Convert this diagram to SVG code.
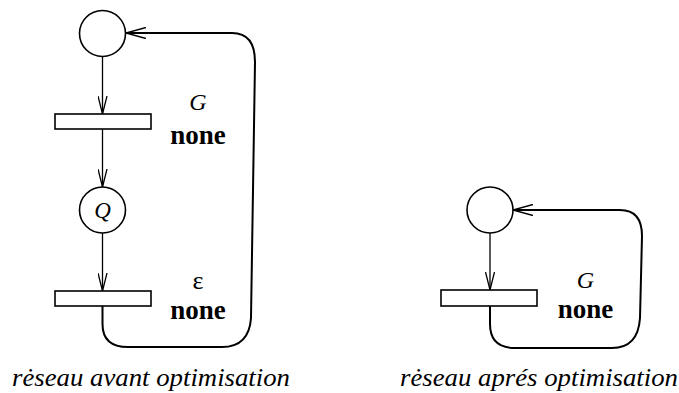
<svg xmlns="http://www.w3.org/2000/svg" width="679" height="393" viewBox="0 0 679 393">
<defs>
<style>
.place{fill:#fff;stroke:#000;stroke-width:1.6}
.trans{fill:#fff;stroke:#000;stroke-width:1.6}
.arc{fill:none;stroke:#000;stroke-width:1.3}
.loop{fill:none;stroke:#000;stroke-width:2}
.lab{fill:#000;text-anchor:middle}
.it{font-style:italic}
.bold{font-weight:bold}
</style>
<marker id="ah" viewBox="0 0 20 12" refX="20" refY="6" markerWidth="20" markerHeight="12" markerUnits="userSpaceOnUse" orient="auto">
<path d="M0,0.5 L20,6 L0,11.5" fill="none" stroke="#000" stroke-width="1.5"/>
</marker>
<marker id="ah2" viewBox="0 0 18 10" refX="18" refY="5" markerWidth="18" markerHeight="10" markerUnits="userSpaceOnUse" orient="auto">
<path d="M0,0.5 L18,5 L0,9.5" fill="none" stroke="#000" stroke-width="1.3"/>
</marker>
</defs>
<rect width="679" height="393" fill="#fff"/>
<g id="connectors">
<line class="arc" x1="102.5" y1="57" x2="102.5" y2="114" marker-end="url(#ah2)"/>
<line class="arc" x1="102.5" y1="129" x2="102.5" y2="187" marker-end="url(#ah2)"/>
<line class="arc" x1="102.5" y1="233" x2="102.5" y2="291" marker-end="url(#ah2)"/>
<path class="loop" d="M102.5,306 L102.5,324 Q102.5,347 128,347 L222,347 Q249,347 251,318 L255,62 Q255,33 232,33 L126,33" marker-end="url(#ah)"/>
<line class="arc" x1="490" y1="233" x2="490" y2="290" marker-end="url(#ah2)"/>
<path class="loop" d="M490,306 L490,324 Q490,348 515,348 L612,348 Q638,348 640,318 L642,236 Q642,210 620,210 L513,210" marker-end="url(#ah)"/>
</g>
<g id="p1"><circle class="place" cx="102.5" cy="33.5" r="23"/></g>
<g id="t1"><rect class="trans" x="55" y="114" width="96" height="15"/></g>
<g id="p2"><circle class="place" cx="102.5" cy="210" r="23"/><text class="lab it" x="102.5" y="218" font-size="23" font-family="Times New Roman, Liberation Serif, DejaVu Serif, serif">Q</text></g>
<g id="t2"><rect class="trans" x="55" y="291" width="96" height="15"/></g>
<g id="lab1"><text class="lab it" x="198" y="110" font-size="24" font-family="Times New Roman, Liberation Serif, DejaVu Serif, serif">G</text><text class="lab bold" x="198" y="144" font-size="27" font-family="Times New Roman, Liberation Serif, DejaVu Serif, serif">none</text></g>
<g id="lab2"><text class="lab" x="198" y="289" font-size="26" font-family="Times New Roman, Liberation Serif, DejaVu Serif, serif">ε</text><text class="lab bold" x="198" y="319" font-size="27" font-family="Times New Roman, Liberation Serif, DejaVu Serif, serif">none</text></g>
<g id="p3"><circle class="place" cx="490" cy="210" r="23"/></g>
<g id="t3"><rect class="trans" x="441" y="290" width="96" height="16"/></g>
<g id="lab3"><text class="lab it" x="585.5" y="288" font-size="24" font-family="Times New Roman, Liberation Serif, DejaVu Serif, serif">G</text><text class="lab bold" x="585.5" y="318" font-size="27" font-family="Times New Roman, Liberation Serif, DejaVu Serif, serif">none</text></g>
<g id="captions">
<text class="lab it" x="151" y="386" font-size="26" font-family="Times New Roman, Liberation Serif, DejaVu Serif, serif" textLength="278" lengthAdjust="spacingAndGlyphs">rėseau avant optimisation</text>
<text class="lab it" x="539" y="386" font-size="26" font-family="Times New Roman, Liberation Serif, DejaVu Serif, serif" textLength="278" lengthAdjust="spacingAndGlyphs">rėseau aprés optimisation</text>
</g>
</svg>
